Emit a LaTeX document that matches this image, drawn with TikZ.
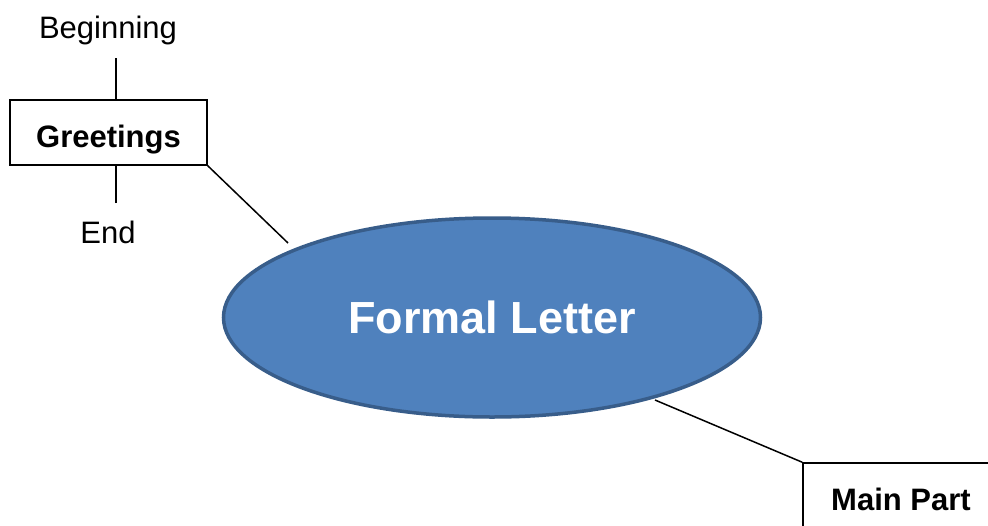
\documentclass[tikz,border=0pt]{standalone}
\usepackage{fontspec}
\setmainfont{Liberation Sans}
\usetikzlibrary{shapes.geometric}
\definecolor{ellfill}{HTML}{4F81BD}
\definecolor{elldraw}{HTML}{385D8A}
\tikzset{
  box/.style={draw=black, line width=1.5pt, fill=white, inner sep=0pt, text depth=0pt, font=\fontsize{31}{36}\selectfont\bfseries},
  lbl/.style={inner sep=0pt, anchor=base, font=\fontsize{31}{36}\selectfont},
  conn/.style={draw=black, line width=1.5pt},
}
\begin{document}
\begin{tikzpicture}[x=1pt,y=-1pt]
\clip (0,0) rectangle (988,525);
\fill[white] (0,0) rectangle (988,525);
\node[ellipse, draw=elldraw, fill=ellfill, line width=3.5pt, minimum width=537pt, minimum height=199pt, inner sep=0pt,
      text=white, text height=32pt, text depth=0pt, font=\fontsize{45}{50}\selectfont\bfseries] (fl) at (492,317.5) {Formal Letter};
\node[box, minimum width=197pt, minimum height=65pt, text height=29pt] (greet) at (108.5,132.5) {Greetings};
\node[box, minimum width=196pt, minimum height=68pt, text height=26pt] (main) at (901,497) {Main Part};
\node[lbl] (beg) at (108,38) {Beginning};
\node[lbl] (end) at (108,243) {End};
\coordinate (b1) at (116,58);
\coordinate (b2) at (116,203);
\coordinate (e1) at (288,243);
\coordinate (e2) at (655,400);
\draw[conn] (b1) -- (b1 |- greet.north);
\draw[conn] (b2) -- (b2 |- greet.south);
\draw[conn] (greet.south east) -- (e1);
\draw[conn] (e2) -- (main.north west);
\end{tikzpicture}
\end{document}
